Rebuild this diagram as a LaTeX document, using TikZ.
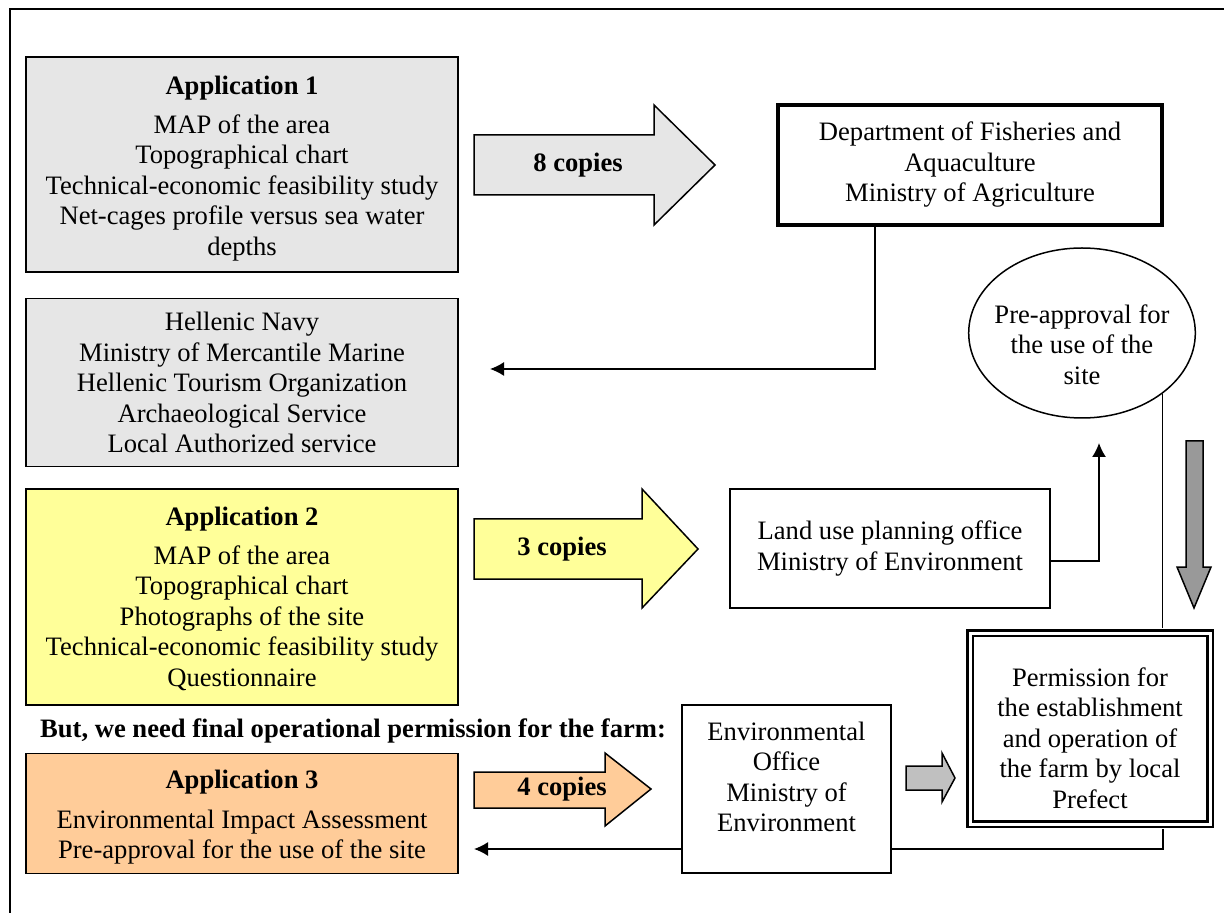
\documentclass[tikz,border=0pt]{standalone}
\usepackage{fontspec}
\setmainfont{Liberation Serif}
\usetikzlibrary{arrows.meta,shapes.geometric,positioning}

\definecolor{appgray}{HTML}{E6E6E6}
\definecolor{appyellow}{HTML}{FFFF99}
\definecolor{apporange}{HTML}{FFCC99}
\definecolor{arrowgray}{HTML}{C0C0C0}
\definecolor{downgray}{HTML}{999999}

\begin{document}
\begin{tikzpicture}[x=0.5pt,y=-0.5pt,font=\fontsize{13.3}{15.25}\selectfont]
  \tikzstyle{appbox}=[draw,line width=0.75pt,minimum width=216pt,inner sep=0pt,align=center]
  \tikzstyle{office}=[draw,line width=0.75pt,inner sep=0pt,align=center]
  \tikzstyle{conn}=[line width=0.75pt]
  \tikzstyle{tip}=[-{Latex[length=7pt,width=7pt]}]
  \tikzstyle{bigarrow}=[draw,line width=0.75pt]
  \tikzstyle{copies}=[font=\fontsize{13.3}{15.25}\selectfont\bfseries]

  \useasboundingbox (0,0) rectangle (1224,913);
  \draw[line width=1pt] (10,913) -- (10,9) -- (1224,9);

  % left column
  \node[appbox,fill=appgray,minimum height=107.5pt] (app1) at (242,164.5)
    {\rule{0pt}{13pt}\textbf{Application 1}\\[4.25pt] MAP of the area\\ Topographical chart\\
     Technical-economic feasibility study\\ Net-cages profile versus sea water\\ depths};
  \node[appbox,fill=appgray,minimum height=84pt] (navy) [below=12.5pt of app1]
    {Hellenic Navy\\ Ministry of Mercantile Marine\\ Hellenic Tourism Organization\\
     Archaeological Service\\ Local Authorized service};
  \node[appbox,fill=appyellow,minimum height=108pt] (app2) [below=10.5pt of navy]
    {\rule{0pt}{11pt}\textbf{Application 2}\\[4pt] MAP of the area\\ Topographical chart\\ Photographs of the site\\
     Technical-economic feasibility study\\ Questionnaire};
  \node[appbox,fill=apporange,minimum height=60pt] (app3) [below=23.5pt of app2]
    {\rule{0pt}{13pt}\textbf{Application 3}\\[4.5pt] Environmental Impact Assessment\\ Pre-approval for the use of the site};
  \node[font=\fontsize{13.3}{15.25}\selectfont\bfseries] (need) at (353,731)
    {But, we need final operational permission for the farm:};

  % offices
  \node[office,line width=1.75pt,minimum width=192pt,minimum height=60pt] (dept) at (970,165)
    {Department of Fisheries and\\ Aquaculture\\ Ministry of Agriculture};
  \node[draw,ellipse,line width=0.75pt,inner xsep=-3.7pt,inner ysep=0pt,minimum width=112pt,minimum height=85pt,align=center] (pre) at (1082,333)
    {\rule{0pt}{21pt}Pre-approval for\\ the use of the\\ site};
  \node[office,minimum width=160pt,minimum height=59.5pt] (land) at (890,548.5)
    {Land use planning office\\ Ministry of Environment};
  \node[office,minimum width=104.5pt,minimum height=84pt] (env) at (786.5,789)
    {Environmental\\ Office\\ Ministry of\\ Environment\rule[-12pt]{0pt}{12pt}};
  \node[office,double,line width=1.25pt,double distance=1.5pt,minimum width=120pt,minimum height=95.5pt] (perm) at (1090,728.5)
    {\rule{0pt}{19pt}Permission for\\ the establishment\\ and operation of\\ the farm by local\\ Prefect};

  % block arrows
  \draw[bigarrow,fill=appgray] (474,135) -- (654,135) -- (654,105) -- (715,165)
    -- (654,225) -- (654,195) -- (474,195) -- cycle;
  \node[copies] (eight) at (578,165) {8 copies};
  \draw[bigarrow,fill=appyellow] (474,519) -- (642,519) -- (642,489) -- (698,549)
    -- (642,608) -- (642,579) -- (474,579) -- cycle;
  \node[copies] (three) at (562,549) {3 copies};
  \draw[bigarrow,fill=apporange] (474,772) -- (605,772) -- (605,753) -- (651,789)
    -- (605,826) -- (605,808) -- (474,808) -- cycle;
  \node[copies] (four) at (562,789) {4 copies};
  \draw[bigarrow,fill=arrowgray] (906,766) -- (942,766) -- (942,753) -- (955,778)
    -- (942,802) -- (942,790) -- (906,790) -- cycle;
  \draw[bigarrow,fill=downgray] (1186,441) -- (1203,441) -- (1203,567) -- (1211,567)
    -- (1194,608) -- (1177,567) -- (1186,567) -- cycle;

  % connectors
  \coordinate (navyin) at (490,369);
  \coordinate (preup) at (1099,443);
  \coordinate (app3in) at (474,849);

  \draw[conn,tip] ([xshift=-47.5pt]dept.south) |- (navyin);
  \draw[conn,tip] ([yshift=-6.25pt]land.east) -| (preup);
  \draw[conn,shorten >=2pt] (pre.south east) -- (pre.south east |- perm.north);
  \draw[conn,shorten <=2pt] ([xshift=36.5pt]perm.south) |- (env.east |- app3in);
  \draw[conn,tip] (env.west |- app3in) -- (app3in);
\end{tikzpicture}
\end{document}
